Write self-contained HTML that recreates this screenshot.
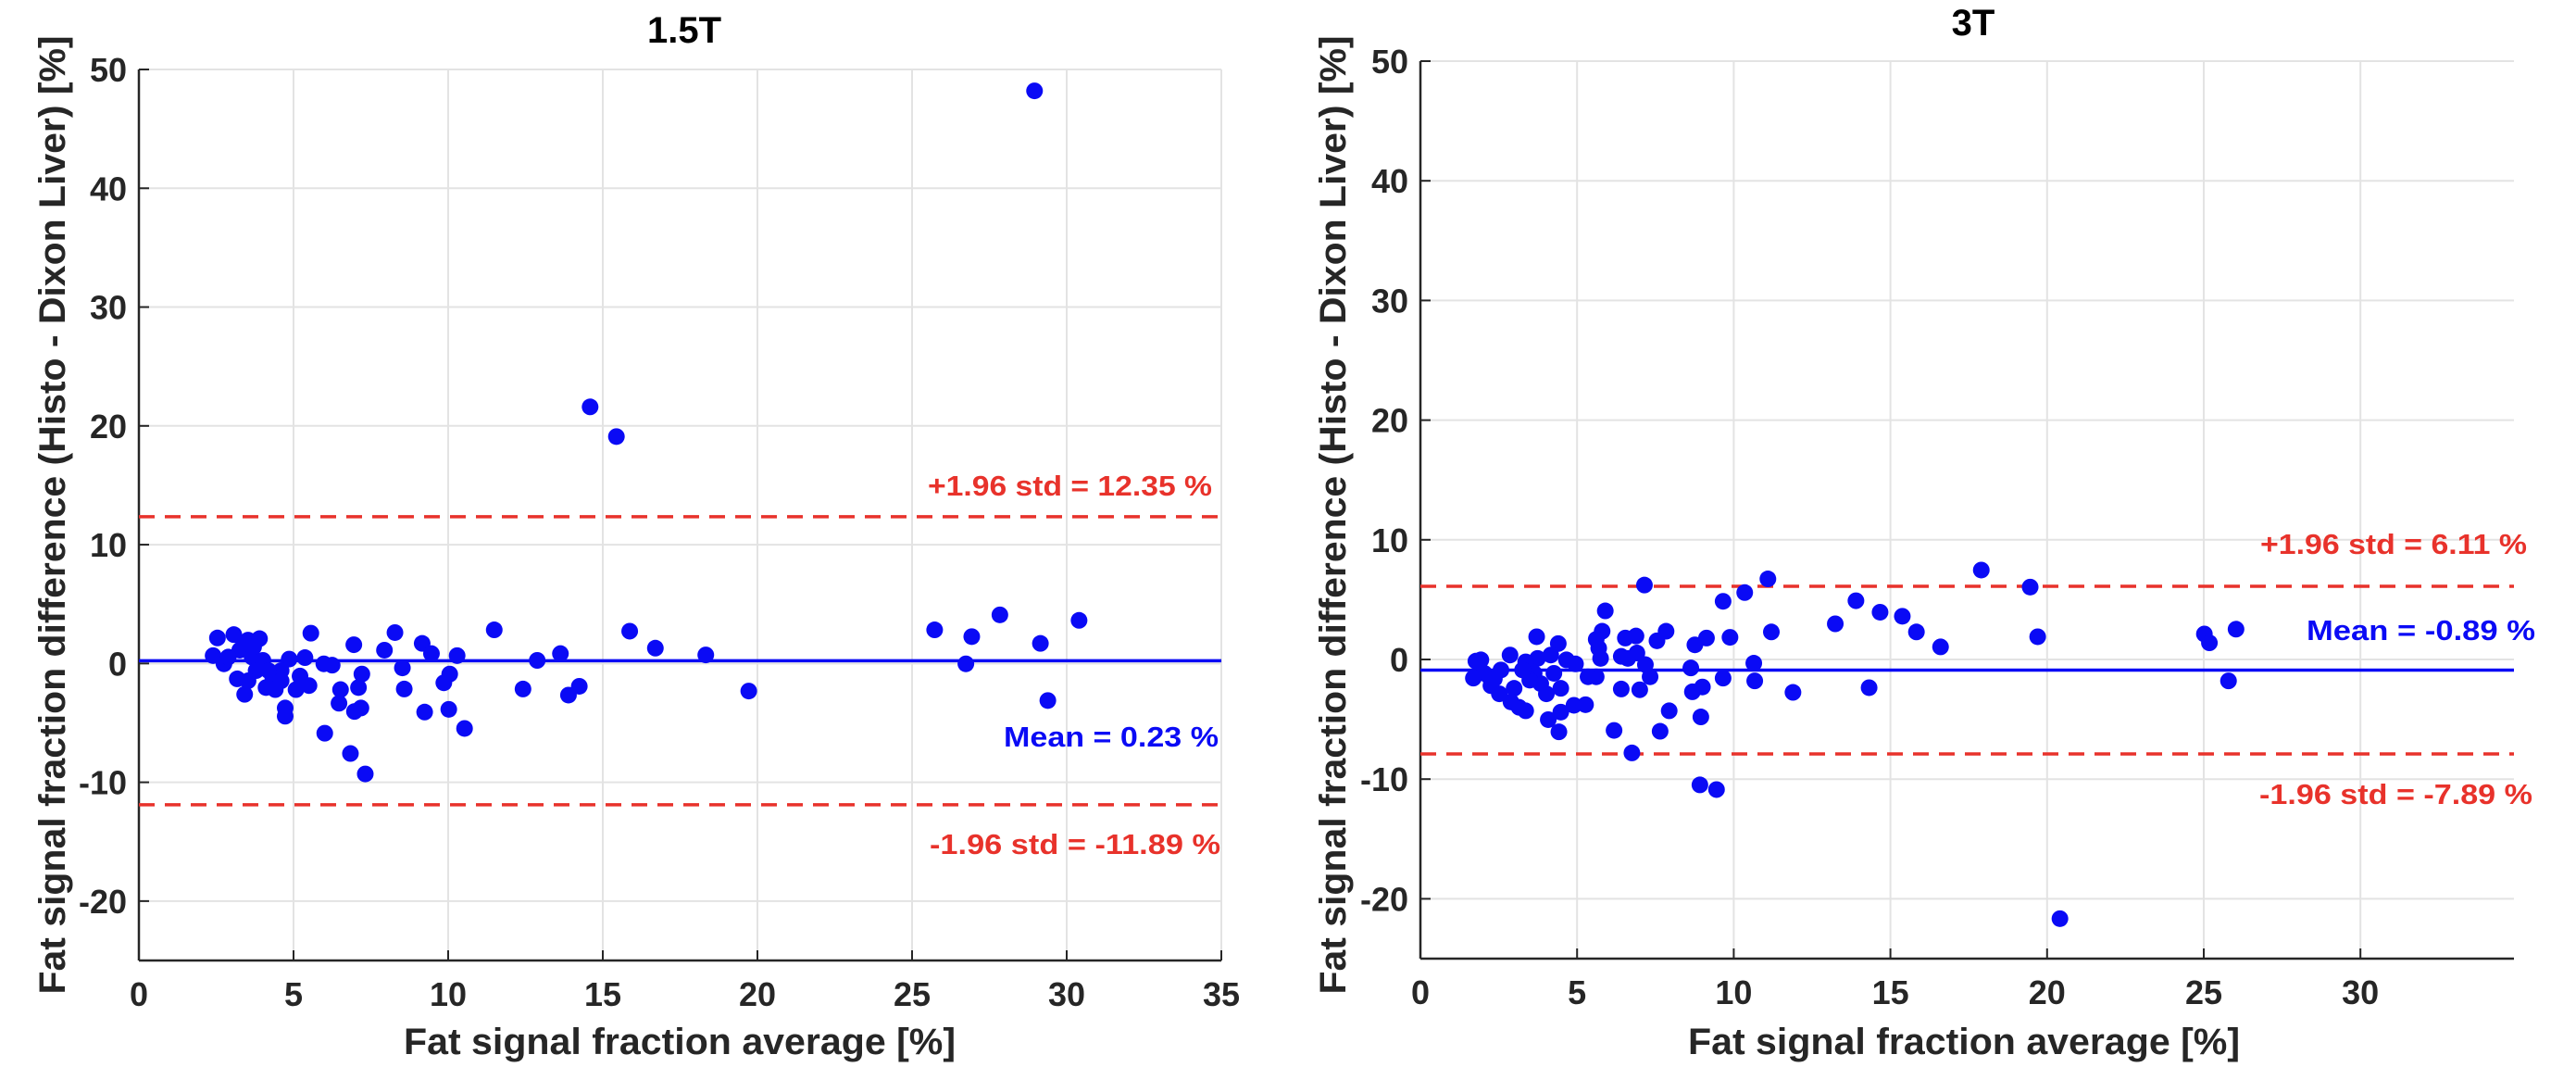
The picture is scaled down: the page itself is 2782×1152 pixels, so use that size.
<!DOCTYPE html>
<html><head><meta charset="utf-8"><style>
html,body{margin:0;padding:0;background:#fff}
svg{display:block}
text{font-family:"Liberation Sans",Arial,sans-serif;font-weight:bold}
</style></head><body>
<svg id="fig" width="2782" height="1152" viewBox="0 0 2782 1152" xmlns="http://www.w3.org/2000/svg"></svg>
<script>
// ---- data: 1.5T ----
const xs15 = [28.96,14.59,15.44,11.49,15.87,16.70,18.33,19.72,12.88,13.63,12.42,13.89,14.24,25.73,26.93,26.74,27.84,29.15,29.39,30.40,8.28,7.94,9.16,9.46,10.29,8.52,8.58,9.24,9.86,10.05,10.02,10.53,6.95,7.21,7.10,7.18,6.97,6.84,7.32,6.01,6.52,6.47,5.98,6.25,5.56,5.37,5.50,5.21,5.08,4.86,4.73,4.73,4.60,2.54,2.40,2.75,3.07,3.26,3.18,3.42,3.53,3.66,3.90,3.79,4.01,4.11,4.33,4.41,3.53,2.89,3.39,4.19,4.60,3.71];
const ys15 = [48.2,21.6,19.1,2.83,2.72,1.29,0.72,-2.32,0.26,0.83,-2.15,-2.66,-1.92,2.83,2.26,-0.03,4.09,1.69,-3.12,3.63,2.60,1.12,1.69,0.83,0.66,-0.37,-2.15,-4.09,-1.63,-0.89,-3.86,-5.47,1.58,-0.89,-2.03,-3.75,-4.04,-7.58,-9.30,-5.87,-2.20,-3.35,-0.03,-0.14,2.55,0.49,-1.86,-1.06,-2.20,0.37,-3.75,-4.44,-0.6,2.15,0.66,-0.03,2.43,1.12,-1.29,-2.60,1.97,0.54,2.09,-0.6,0.26,-2.03,-1.18,-2.20,-1.46,0.54,1.69,-0.6,-1.46,1.4];
const mean15 = 0.23, upper15 = 12.35, lower15 = -11.89;
// ---- data: 3T ----
const xs3 = [20.41,17.90,19.46,19.70,25.02,25.18,26.03,25.79,16.60,15.83,15.38,14.67,13.90,13.24,14.32,11.89,11.20,11.09,10.35,9.66,9.88,10.64,10.67,9.66,9.45,8.92,8.95,9.00,8.68,8.63,9.13,8.76,7.94,7.65,7.84,7.55,7.15,7.33,7.18,7.00,6.75,6.88,6.91,6.62,6.54,6.41,6.41,6.18,5.90,5.80,5.69,5.61,5.75,5.61,5.35,5.27,4.90,4.95,4.66,4.48,4.42,4.40,4.48,4.26,4.08,4.02,4.16,3.71,3.74,3.63,3.84,3.49,3.36,3.26,3.36,3.15,2.99,2.86,2.89,2.57,2.52,2.25,2.20,1.93,1.77,1.69,2.04,2.36];
const ys3 = [-21.66,7.47,6.05,1.90,2.13,1.39,2.53,-1.79,1.05,2.30,3.61,3.95,4.91,2.98,-2.36,-2.75,2.30,6.73,5.59,4.86,1.85,-0.31,-1.79,-1.56,-10.87,-10.48,-4.80,-2.30,-2.70,-0.71,1.79,1.22,-4.29,-6.0,2.36,1.56,6.22,-1.45,-0.43,-2.53,-7.81,1.96,0.54,0.09,1.79,0.26,-2.47,-5.93,4.06,2.36,0.94,1.68,0.09,-1.45,-1.45,-3.78,-3.83,-0.37,-0.03,-4.40,-6.05,1.33,-2.41,-1.16,-5.03,-2.87,0.37,1.90,0.09,-1.16,-2.02,-1.73,-0.2,-0.88,-4.29,-4.0,-2.41,0.37,-3.55,-0.88,-2.87,-2.19,-1.45,-0.03,-0.14,-1.56,-1.16,-1.62];
const mean3 = -0.89, upper3 = 6.11, lower3 = -7.89;
const yTicks = [-20,-10,0,10,20,30,40,50];
const xTicks15 = [0,5,10,15,20,25,30,35];
const xTicks3 = [0,5,10,15,20,25,30];

const NS = "http://www.w3.org/2000/svg";
const svg = document.getElementById('fig');
function mk(tag, attrs, parent, txt){
  const e = document.createElementNS(NS, tag);
  for (const k in attrs) e.setAttribute(k, attrs[k]);
  if (txt !== undefined) e.textContent = txt;
  parent.appendChild(e);
  return e;
}
const RED = "#e8322b", BLUE = "#0a0af5", AX = "#262626";

function panel(cfg){
  const g = mk('g', {}, svg);
  
  
  const sx = v => cfg.L + (v - cfg.xmin) / (cfg.xmax - cfg.xmin) * (cfg.R - cfg.L);
  const sy = v => cfg.B - (v - cfg.ymin) / (cfg.ymax - cfg.ymin) * (cfg.B - cfg.T);
  // grid
  cfg.xTicks.forEach(t => {
    const l = mk('line', {x1:sx(t), x2:sx(t), y1:cfg.T, y2:cfg.B, stroke:"#e3e3e3", "stroke-width":2}, g);
    
    
  });
  yTicks.concat([cfg.ymax]).forEach(t => {
    const l = mk('line', {x1:cfg.L, x2:cfg.R, y1:sy(t), y2:sy(t), stroke:"#e3e3e3", "stroke-width":2}, g);
    
    
  });
  // axes
  const xa = mk('line', {x1:cfg.L, x2:cfg.R, y1:cfg.B, y2:cfg.B, stroke:AX, "stroke-width":2.5}, g);
  
  
  const ya = mk('line', {x1:cfg.L, x2:cfg.L, y1:cfg.T, y2:cfg.B, stroke:AX, "stroke-width":2.5}, g);
  
  
  cfg.xTicks.forEach(t => {
    mk('line', {x1:sx(t), x2:sx(t), y1:cfg.B, y2:cfg.B-11, stroke:AX, "stroke-width":2}, g);
    const tx = mk('text', {x:sx(t), y:cfg.B+49, "text-anchor":"middle", "font-size":36, fill:AX}, g, String(t));
    
    
  });
  yTicks.forEach(t => {
    mk('line', {x1:cfg.L, x2:cfg.L+11, y1:sy(t), y2:sy(t), stroke:AX, "stroke-width":2}, g);
    const tx = mk('text', {x:cfg.L-13, y:sy(t)+13, "text-anchor":"end", "font-size":36, fill:AX}, g, String(t));
    
    
  });
  // reference lines
  const ml = mk('line', {x1:cfg.L, x2:cfg.R, y1:sy(cfg.mean), y2:sy(cfg.mean), stroke:BLUE, "stroke-width":3.5}, g);
  
  
  const ul = mk('line', {x1:cfg.L, x2:cfg.R, y1:sy(cfg.upper), y2:sy(cfg.upper), stroke:RED, "stroke-width":3.5, "stroke-dasharray":"17 11"}, g);
  
  
  const ll = mk('line', {x1:cfg.L, x2:cfg.R, y1:sy(cfg.lower), y2:sy(cfg.lower), stroke:RED, "stroke-width":3.5, "stroke-dasharray":"17 11"}, g);
  
  
  // points
  cfg.xs.forEach((x, i) => {
    const c = mk('circle', {cx:sx(x), cy:sy(cfg.ys[i]), r:9, fill:BLUE}, g);
    
    
  });
  // annotations
  const a1 = mk('text', {x:cfg.annX1, y:cfg.annY[0], "text-anchor":"end", "font-size":31, fill:RED, textLength:cfg.annW[0], lengthAdjust:"spacingAndGlyphs"}, g, "+1.96 std = " + cfg.upper.toFixed(2) + " %");
  
  
  const a2 = mk('text', {x:cfg.annX2, y:cfg.annY[1], "text-anchor":"end", "font-size":31, fill:BLUE, textLength:cfg.annW[1], lengthAdjust:"spacingAndGlyphs"}, g, "Mean = " + cfg.mean.toFixed(2) + " %");
  
  
  const a3 = mk('text', {x:cfg.annX3, y:cfg.annY[2], "text-anchor":"end", "font-size":31, fill:RED, textLength:cfg.annW[2], lengthAdjust:"spacingAndGlyphs"}, g, "-1.96 std = " + cfg.lower.toFixed(2) + " %");
  
  
  // title & axis labels
  const ti = mk('text', {x:cfg.titleX, y:cfg.titleY, "text-anchor":"middle", "font-size":40, fill:"#000"}, g, cfg.title);
  
  
  const xl = mk('text', {x:cfg.xlabX, y:1138, "text-anchor":"middle", "font-size":40, fill:AX, textLength:596, lengthAdjust:"spacingAndGlyphs"}, g, "Fat signal fraction average [%]");
  
  
  const yl = mk('text', {x:0, y:0, "text-anchor":"middle", "font-size":40, fill:AX, textLength:1035, lengthAdjust:"spacingAndGlyphs", transform:`translate(${cfg.ylabX},556) rotate(-90)`}, g, "Fat signal fraction difference (Histo - Dixon Liver) [%]");
  
  
}

panel({name:"panel-1-5t", title:"1.5T", L:150, R:1319, T:75, B:1037, xmin:0, xmax:35, ymin:-25, ymax:50,
  xTicks:xTicks15, xs:xs15, ys:ys15, mean:mean15, upper:upper15, lower:lower15,
  annX1:1309, annX2:1316, annX3:1318, annY:[535,806,922], annW:[307,232,314],
  titleX:739, titleY:46, xlabX:734, ylabX:70});
panel({name:"panel-3t", title:"3T", L:1534, R:2715, T:66, B:1035, xmin:0, xmax:34.9, ymin:-25, ymax:50,
  xTicks:xTicks3, xs:xs3, ys:ys3, mean:mean3, upper:upper3, lower:lower3,
  annX1:2729, annX2:2738, annX3:2735, annY:[598,691,868], annW:[288,247,295],
  titleX:2131, titleY:38, xlabX:2121, ylabX:1453});
</script>
</body></html>
